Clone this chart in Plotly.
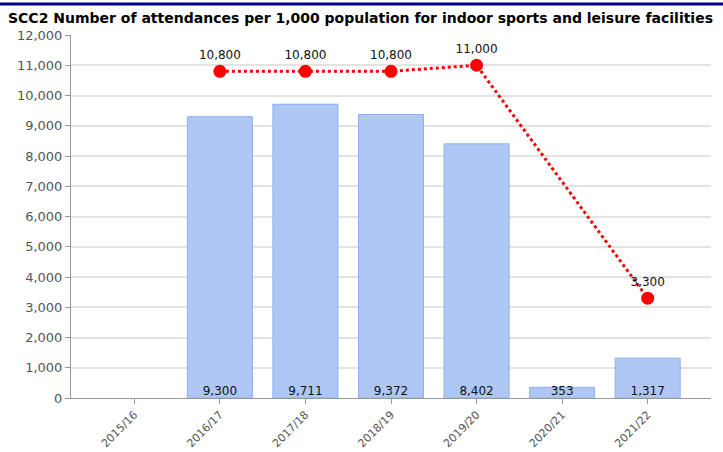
import plotly.graph_objects as go

categories = ["2015/16", "2016/17", "2017/18", "2018/19", "2019/20", "2020/21", "2021/22"]
attendances = [None, 9300, 9711, 9372, 8402, 353, 1317]
target = [None, 10800, 10800, 10800, 11000, None, 3300]
y_ticks = list(range(0, 12001, 1000))

def fmt(v):
    return "" if v is None else f"{v:,}"

fig = go.Figure()
fig.add_trace(go.Bar(
    x=categories, y=attendances, width=0.76,
    marker=dict(color="#aec7f5", line=dict(color="#8fb0ec", width=1)),
    hoverinfo="skip", showlegend=False,
))
fig.add_trace(go.Scatter(
    x=categories, y=[0 if v is not None else None for v in attendances],
    mode="text", text=[fmt(v) for v in attendances], textposition="top center",
    textfont=dict(family="DejaVu Sans", size=12, color="#111"),
    showlegend=False, hoverinfo="skip",
))
fig.add_trace(go.Scatter(
    x=categories, y=target, mode="lines+markers+text", connectgaps=True,
    line=dict(color="#ff0000", width=3, dash="dot"),
    marker=dict(color="#ff0000", size=13),
    text=[fmt(v) for v in target], textposition="top center",
    textfont=dict(family="DejaVu Sans", size=12, color="#111"),
    showlegend=False, hoverinfo="skip", cliponaxis=False,
))

fig.update_layout(
    width=723, height=452,
    margin=dict(l=71, r=12, t=35, b=54),
    paper_bgcolor="white", plot_bgcolor="white",
    font=dict(family="DejaVu Sans", size=12, color="#555"),
    title=dict(
        text="<b>SCC2 Number of attendances per 1,000 population for indoor sports and leisure facilities</b>",
        x=8/723, xanchor="left", xref="container",
        y=1-18/452, yanchor="middle", yref="container",
        font=dict(family="DejaVu Sans", size=14, color="#000"),
    ),
    xaxis=dict(
        type="category", range=[-0.74, 6.74], tickangle=-45, automargin=False,
        showline=True, linecolor="#999", linewidth=1,
        ticks="outside", ticklen=5, tickcolor="#999",
        showgrid=False, tickfont=dict(size=11, color="#555"),
    ),
    yaxis=dict(
        range=[0, 12000], tickvals=y_ticks, tickformat=",d", automargin=False,
        showline=True, linecolor="#999", linewidth=1,
        ticks="outside", ticklen=5, tickcolor="#999",
        gridcolor="#e3e3e3", gridwidth=2, zeroline=False,
        tickfont=dict(size=13, color="#555"),
    ),
    shapes=[dict(type="line", xref="paper", yref="paper",
                 x0=-71/640, x1=652/640, y0=1+31/363, y1=1+31/363,
                 line=dict(color="#00008b", width=3))],
)

fig.write_html("out.html", config={"displayModeBar": False},
               post_script="document.body.style.margin='0';document.body.style.overflow='hidden';")
